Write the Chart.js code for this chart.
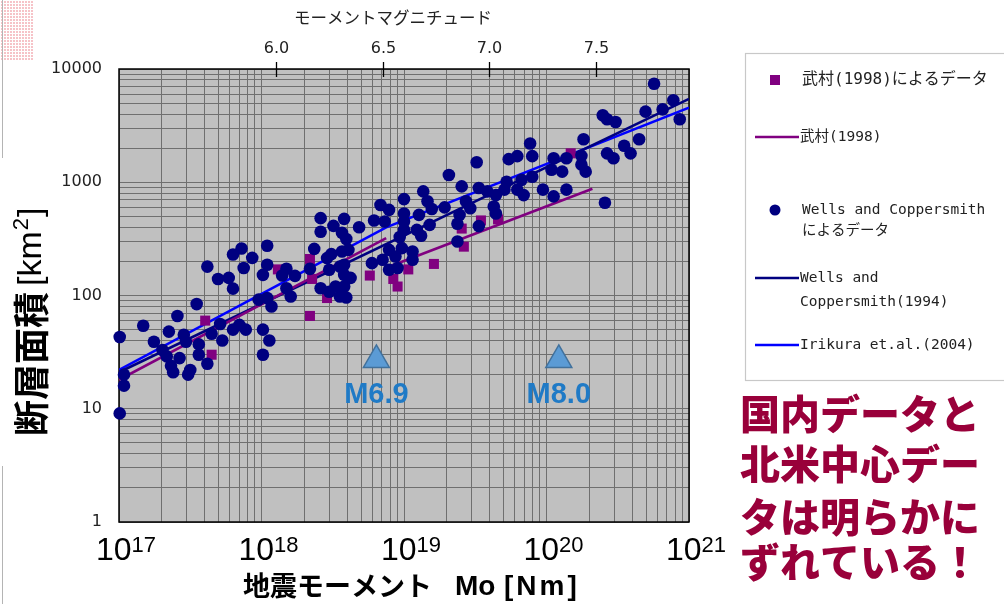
<!DOCTYPE html>
<html lang="ja">
<head>
<meta charset="utf-8">
<title>断層面積と地震モーメント</title>
<script src="https://cdn.jsdelivr.net/npm/chart.js@4.4.1/dist/chart.umd.min.js"></script>
<style>
  html, body { margin: 0; padding: 0; background: #fff; }
  #container { position: relative; width: 1004px; height: 604px; }
</style>
</head>
<body>
<div id="container">
  <canvas id="scalingChart"></canvas>
</div>

<script>
    // 武村(1998) 国内データ : moment magnitude / fault area [km2]
    var takemuraMw   = [5.67, 5.70, 6.01, 6.16, 6.17, 6.16, 6.24, 6.44, 6.55, 6.57, 6.62, 6.74, 6.87, 6.96, 7.04, 6.88, 7.38];
    var takemuraArea = [60, 30, 170, 210, 140, 66, 95, 150, 140, 120, 170, 190, 390, 460, 470, 270, 1800];

    // Wells and Coppersmith (1994) data
    var wellsMw = [
        5.27, 5.27, 5.29, 5.29, 5.38, 5.43, 5.47, 5.49, 5.50, 5.51, 5.52, 5.54, 5.55, 5.57, 5.58, 5.59,
        5.60, 5.63, 5.64, 5.64, 5.68, 5.68, 5.70, 5.73, 5.74, 5.75, 5.78, 5.80, 5.80, 5.80, 5.84, 5.85,
        5.83, 5.86, 5.89, 5.94, 5.92, 5.94, 5.97, 5.94, 5.96, 5.96, 5.98, 5.96, 6.03, 6.05, 6.09, 6.05,
        6.07, 6.16, 6.18, 6.21, 6.27, 6.21, 6.31, 6.32, 6.24, 6.26, 6.25, 6.30, 6.21, 6.25, 6.28, 6.30,
        6.33, 6.69, 6.60, 6.49, 6.53, 6.60, 6.67, 6.46, 6.51, 6.60, 6.39, 6.60, 6.66, 6.68, 6.33, 6.58,
        6.34, 6.31, 6.53, 6.59, 6.64, 6.45, 6.50, 6.56, 6.64, 6.57, 6.53, 6.32, 6.32, 6.35, 6.32,
        7.19, 7.09, 7.13, 6.94, 6.81, 6.87, 6.95, 7.08, 7.15, 7.20, 6.99, 7.03, 7.07, 7.13, 7.16,
        6.71, 6.73, 6.79, 6.89, 6.91, 6.86, 7.02, 7.03, 6.72, 6.85, 6.95, 6.85,
        7.77, 7.86, 7.73, 7.81, 7.89, 7.53, 7.55, 7.59, 7.44, 7.70, 7.63, 7.66, 7.55, 7.58,
        7.20, 7.30, 7.36, 7.43, 7.43, 7.45, 7.29, 7.34, 7.25, 7.30, 7.36, 7.54
    ];
    var wellsArea = [
        43, 9.1, 20, 16, 54, 39, 33, 29, 48, 24, 21, 66, 28, 45, 39, 20,
        22, 84, 37, 30, 25, 180, 46, 140, 56, 40, 143, 230, 115, 50, 260, 175,
        55, 50, 215, 152, 92, 50, 40, 30, 275, 187, 80, 95, 150, 172, 149, 116,
        98, 172, 258, 482, 412, 365, 357, 475, 214, 232, 169, 180, 116, 108, 120, 98,
        96, 830, 710, 630, 570, 530, 515, 460, 450, 450, 400, 380, 380, 337, 315, 328,
        253, 245, 253, 262, 245, 193, 207, 221, 207, 175, 169, 187, 152, 143, 120,
        2200, 1600, 1700, 1500, 1160, 920, 890, 1010, 1050, 1120, 830, 770, 860, 860, 770,
        680, 580, 600, 680, 590, 515, 610, 530, 420, 430, 410, 300,
        7400, 5300, 4200, 4400, 3600, 3900, 3600, 3400, 2400, 2400, 2100, 1800, 1800, 1630,
        1700, 1630, 1630, 1710, 1430, 1240, 1290, 1240, 860, 750, 860, 660
    ];

    // scaling relations (Mo [Nm] / area [km2])
    var takemuraFitMo   = [1e17, 7.5e18];
    var takemuraFitArea = [18, 321];
    var takemuraFit2Mo   = [7.5e18, 2.1e20];
    var takemuraFit2Area = [176, 875];
    var wellsFitMo   = [1e17, 1e21];
    var wellsFitArea = [21, 5450];
    var irikuraFitMo   = [1e17, 7.5e18, 1e21];
    var irikuraFitArea = [22, 400, 4560];

    // events marked on the chart
    var eventLabels = ['M6.9', 'M8.0'];
    var eventMo     = [6.4e18, 1.22e20];
    var eventArea   = [27, 27];

    var magTicks = [6.0, 6.5, 7.0, 7.5];

    var PURPLE = '#800080', NAVY = '#000080', BLUE = '#0000ff';

    function moFromMw(mw) { return Math.pow(10, 1.5 * mw + 9.1); }
    function mwFromMo(mo) { return (Math.log10(mo) - 9.1) / 1.5; }
    function points(xs, ys) { return xs.map(function (x, i) { return { x: x, y: ys[i] }; }); }

    function logTicks(fromExp, toExp) {
        var t = [];
        for (var e = fromExp; e < toExp; e++) {
            for (var m = 1; m <= 9; m++) t.push({ value: Number(m + 'e' + e) });
        }
        t.push({ value: Number('1e' + toExp) });
        return t;
    }

    var decor = {
        id: 'decor',
        beforeDraw: function (chart) {
            var ctx = chart.ctx, a = chart.chartArea;
            ctx.save();
            ctx.fillStyle = '#fff';
            ctx.fillRect(0, 0, chart.width, chart.height);
            // small pink tile and side rule
            ctx.fillStyle = '#f6c3c8';
            ctx.fillRect(0, 0, 33, 60);
            ctx.fillStyle = '#fff';
            for (var i = 0; i < 33; i += 3) ctx.fillRect(i, 0, 1, 60);
            for (var j = 0; j < 60; j += 3) ctx.fillRect(0, j, 33, 1);
            ctx.fillStyle = '#b4b4b4';
            ctx.fillRect(2, 0, 1, 158);
            ctx.fillRect(2, 466, 1, 138);
            // plot background
            ctx.fillStyle = '#c0c0c0';
            ctx.fillRect(a.left, a.top, a.right - a.left, a.bottom - a.top);
            ctx.restore();
        },
        beforeDatasetsDraw: function (chart) {
            var ctx = chart.ctx, a = chart.chartArea;
            ctx.save();
            ctx.strokeStyle = '#000';
            ctx.lineWidth = 1.5;
            ctx.strokeRect(a.left, a.top, a.right - a.left, a.bottom - a.top);
            ctx.restore();
        },
        afterDraw: function (chart) {
            var ctx = chart.ctx, a = chart.chartArea;
            var xs = chart.scales.x, mag = chart.scales.x2;
            ctx.save();

            // moment magnitude axis on top
            ctx.strokeStyle = '#000';
            ctx.lineWidth = 1.3;
            ctx.fillStyle = '#222';
            ctx.font = '16px "DejaVu Sans"';
            ctx.textAlign = 'center';
            ctx.textBaseline = 'middle';
            magTicks.forEach(function (m) {
                var px = Math.round(mag.getPixelForValue(m)) + 0.5;
                ctx.beginPath();
                ctx.moveTo(px, a.top - 7);
                ctx.lineTo(px, a.top + 8);
                ctx.stroke();
                ctx.fillText(m.toFixed(1), px, a.top - 20);
            });
            ctx.font = '16.5px "Noto Sans CJK JP"';
            ctx.fillText('モーメントマグニチュード', 393, 18);

            // 10^n labels on the bottom axis
            ctx.fillStyle = '#000';
            ctx.textAlign = 'left';
            ctx.textBaseline = 'alphabetic';
            for (var e = 17; e <= 21; e++) {
                var px = xs.getPixelForValue(Number('1e' + e));
                ctx.font = '32px "Liberation Sans"';
                var w1 = ctx.measureText('10').width;
                ctx.font = '22px "Liberation Sans"';
                var w2 = ctx.measureText(String(e)).width;
                var x0 = px + 7 - (w1 + w2) / 2;
                ctx.font = '32px "Liberation Sans"';
                ctx.fillText('10', x0, 560);
                ctx.font = '22px "Liberation Sans"';
                ctx.fillText(String(e), x0 + w1, 552);
            }

            // axis titles
            ctx.textBaseline = 'middle';
            ctx.font = 'bold 27px "Noto Sans CJK JP"';
            ctx.fillText('地震モーメント', 243, 586);
            ctx.font = 'bold 28px "Liberation Sans"';
            ctx.fillText('Mo', 455, 587);
            ctx.letterSpacing = '3px';
            ctx.fillText('[Nm]', 504, 587);
            ctx.letterSpacing = '0px';

            ctx.save();
            ctx.translate(31, 436);
            ctx.rotate(-Math.PI / 2);
            ctx.font = 'bold 36px "Noto Sans CJK JP"';
            ctx.fillText('断層面積', 0, 0);
            var tx = ctx.measureText('断層面積').width + 6;
            ctx.font = '34px "Liberation Sans"';
            ctx.fillText('[km', tx, 1);
            tx += ctx.measureText('[km').width + 1;
            ctx.font = '22px "Liberation Sans"';
            ctx.fillText('2', tx, -9);
            tx += ctx.measureText('2').width + 1;
            ctx.font = '34px "Liberation Sans"';
            ctx.fillText(']', tx, 1);
            ctx.restore();

            // event labels under the triangles
            var ev = chart.getDatasetMeta(5).data;
            ctx.fillStyle = '#1f7ac6';
            ctx.font = 'bold 29px "Liberation Sans"';
            ctx.textAlign = 'center';
            ev.forEach(function (p, i) {
                ctx.fillText(eventLabels[i], p.x, p.y + 35);
            });

            // legend box
            ctx.fillStyle = '#fff';
            ctx.fillRect(745, 53, 270, 328);
            ctx.strokeStyle = '#c8c8c8';
            ctx.lineWidth = 1.2;
            ctx.strokeRect(745.5, 53.5, 270, 327);

            ctx.fillStyle = PURPLE;
            ctx.fillRect(770, 75, 10, 10);
            ctx.fillStyle = NAVY;
            ctx.beginPath();
            ctx.arc(775, 210, 5.5, 0, Math.PI * 2);
            ctx.fill();
            [[PURPLE, 137], [NAVY, 278], [BLUE, 345]].forEach(function (l) {
                ctx.strokeStyle = l[0];
                ctx.lineWidth = 2.5;
                ctx.beginPath();
                ctx.moveTo(755, l[1]);
                ctx.lineTo(799, l[1]);
                ctx.stroke();
            });

            ctx.fillStyle = '#222';
            ctx.textAlign = 'left';
            ctx.font = '16px "DejaVu Sans Mono", "Noto Sans CJK JP"';
            ctx.fillText('武村(1998)によるデータ', 802, 80);
            ctx.font = '14.5px "DejaVu Sans Mono", "Noto Sans CJK JP"';
            ctx.fillText('武村(1998)', 800, 137);
            ctx.fillText('Wells and Coppersmith', 802, 210);
            ctx.fillText('によるデータ', 802, 231);
            ctx.fillText('Wells and', 800, 278);
            ctx.fillText('Coppersmith(1994)', 800, 302);
            ctx.fillText('Irikura et.al.(2004)', 800, 345);

            // note
            ctx.fillStyle = '#99003a';
            ctx.font = '900 40px "Noto Sans CJK JP"';
            ctx.fillText('国内データと', 740, 414);
            ctx.fillText('北米中心デー', 740, 464);
            ctx.fillText('タは明らかに', 740, 517);
            ctx.fillText('ずれている！', 740, 562);

            ctx.restore();
        }
    };

    var ctxS = document.getElementById('scalingChart').getContext('2d');
    var scalingChart = new Chart(ctxS, {
        type: 'scatter',
        data: {
            datasets: [
                {
                    label: 'Wells and Coppersmith によるデータ',
                    data: points(wellsMw.map(moFromMw), wellsArea),
                    backgroundColor: NAVY,
                    borderColor: NAVY,
                    borderWidth: 0,
                    pointRadius: 6.3,
                    clip: false,
                    order: 0
                },
                {
                    label: '武村(1998)によるデータ',
                    data: points(takemuraMw.map(moFromMw), takemuraArea),
                    pointStyle: 'rect',
                    backgroundColor: PURPLE,
                    borderColor: PURPLE,
                    borderWidth: 0,
                    pointRadius: 7.1,
                    clip: false,
                    order: 1
                },
                {
                    label: '武村(1998)',
                    data: points(takemuraFitMo, takemuraFitArea),
                    showLine: true, pointRadius: 0,
                    borderColor: PURPLE, borderWidth: 2.6,
                    order: 2
                },
                {
                    label: '武村(1998) ',
                    data: points(takemuraFit2Mo, takemuraFit2Area),
                    showLine: true, pointRadius: 0,
                    borderColor: PURPLE, borderWidth: 2.6,
                    order: 2
                },
                {
                    label: 'Wells and Coppersmith(1994)',
                    data: points(wellsFitMo, wellsFitArea),
                    showLine: true, pointRadius: 0,
                    borderColor: NAVY, borderWidth: 2.6,
                    order: 3
                },
                {
                    label: 'events',
                    data: points(eventMo, eventArea),
                    pointStyle: 'triangle',
                    pointRadius: 15,
                    backgroundColor: '#5b9bd5',
                    borderColor: '#41719c',
                    borderWidth: 1.5,
                    clip: false,
                    order: 5
                },
                {
                    label: 'Irikura et.al.(2004)',
                    data: points(irikuraFitMo, irikuraFitArea),
                    showLine: true, pointRadius: 0,
                    borderColor: BLUE, borderWidth: 2.6,
                    order: 4
                }
            ]
        },
        options: {
            responsive: true,
            maintainAspectRatio: false,
            animation: false,
            events: [],
            layout: { autoPadding: false, padding: { left: 0, right: 315, top: 0, bottom: 0 } },
            plugins: { legend: { display: false }, tooltip: { enabled: false } },
            scales: {
                x: {
                    type: 'logarithmic',
                    position: 'bottom',
                    min: 1e17, max: 1e21,
                    afterBuildTicks: function (s) { s.ticks = logTicks(17, 21); },
                    afterFit: function (s) { s.height = 82; },
                    ticks: { display: false },
                    grid: { color: '#6f6f6f', lineWidth: 1, drawTicks: false },
                    border: { display: false }
                },
                x2: {
                    type: 'linear',
                    position: 'top',
                    min: mwFromMo(1e17), max: mwFromMo(1e21),
                    afterBuildTicks: function (s) { s.ticks = magTicks.map(function (v) { return { value: v }; }); },
                    afterFit: function (s) { s.height = 69; },
                    ticks: { display: false },
                    grid: { display: false },
                    border: { display: false }
                },
                y: {
                    type: 'logarithmic',
                    position: 'left',
                    min: 1, max: 10000,
                    afterBuildTicks: function (s) { s.ticks = logTicks(0, 4); },
                    afterFit: function (s) { s.width = 119; },
                    ticks: {
                        autoSkip: false,
                        padding: 17,
                        color: '#222',
                        font: { family: 'DejaVu Sans', size: 16 },
                        callback: function (v) {
                            var l = Math.log10(v);
                            return Math.abs(l - Math.round(l)) < 1e-9 ? String(Math.round(v)) : '';
                        }
                    },
                    grid: { color: '#6f6f6f', lineWidth: 1, drawTicks: false },
                    border: { display: false }
                }
            }
        },
        plugins: [decor]
    });
</script>
</body>
</html>
